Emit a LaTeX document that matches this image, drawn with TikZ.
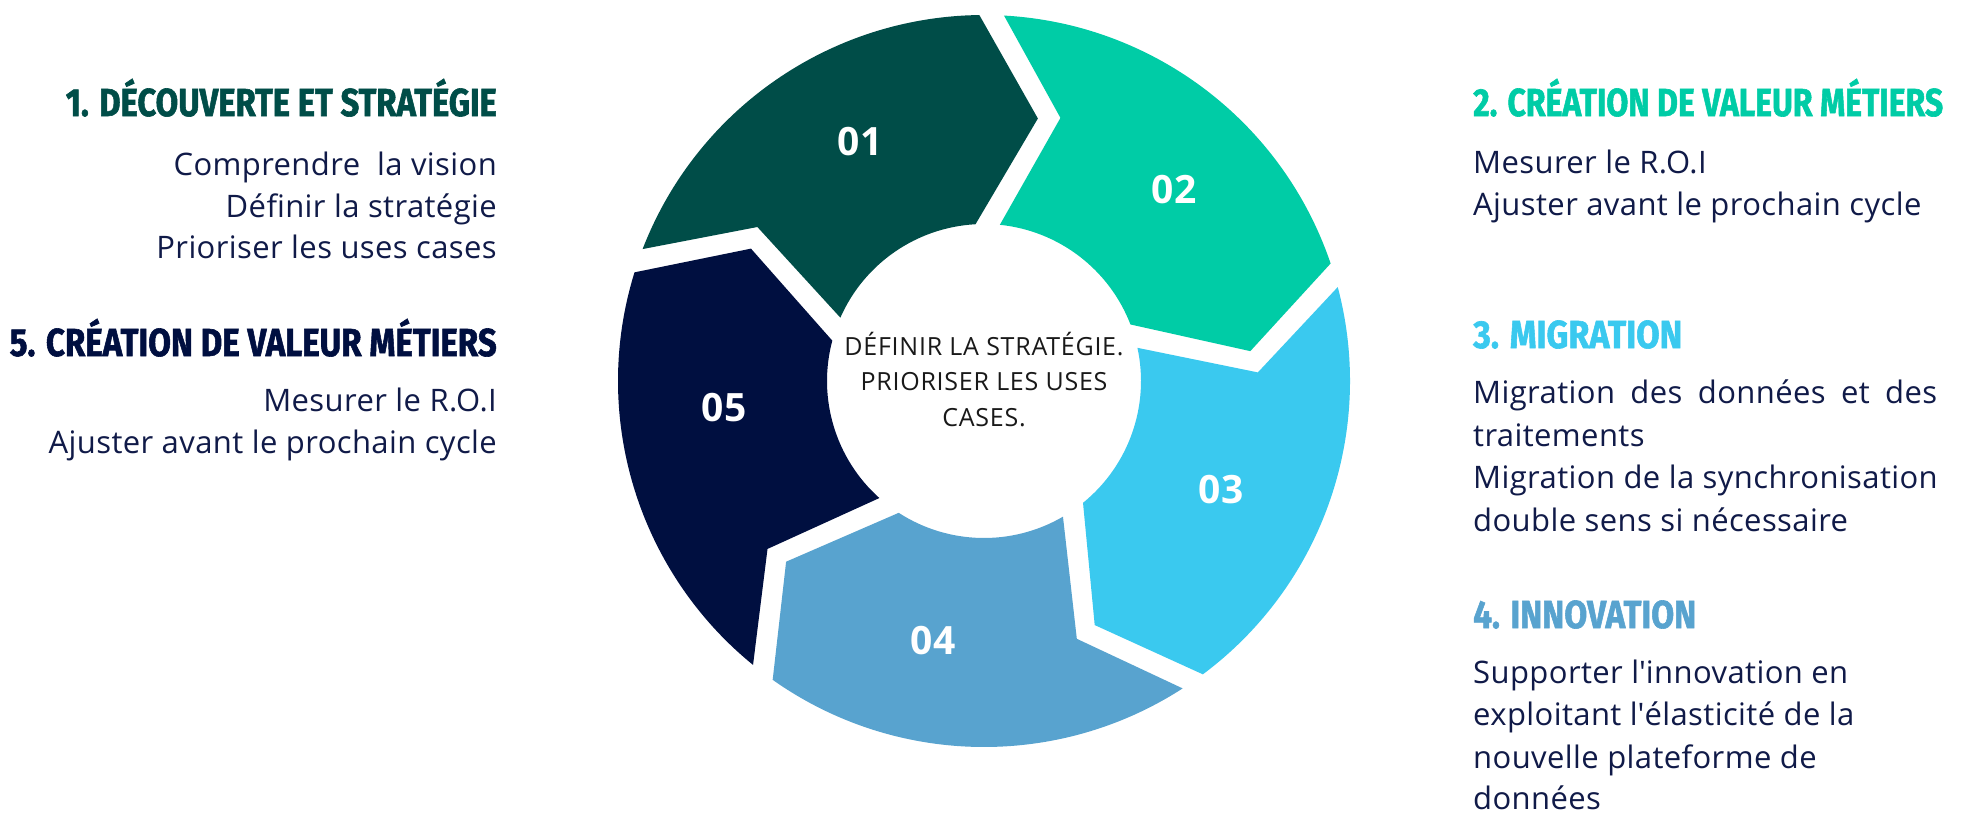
\documentclass[tikz,border=0pt]{standalone}
\usepackage{fontspec}
\usepackage{graphicx}
\setmainfont{Open Sans}
\newfontfamily\headfont{Fira Sans}[FakeBold=1.6]
\newfontfamily\bodyfont{Open Sans}[LetterSpace=1.3]
\newfontfamily\midfont{Open Sans}[LetterSpace=3]
\definecolor{cA}{HTML}{004D48}
\definecolor{cB}{HTML}{00CCA6}
\definecolor{cC}{HTML}{3AC9EF}
\definecolor{cD}{HTML}{58A3CF}
\definecolor{cE}{HTML}{000F40}
\definecolor{txt}{HTML}{101A48}
\newcommand\ringseg[3]{%
  \fill[#1] ({#2-1.93}:366) arc[start angle={#2-1.93}, end angle={#3+1.93}, radius=366]
    -- ({#3-10.4}:268) -- ({#3+4.3}:157)
    arc[start angle={#3+4.3}, end angle={#2-4.6}, radius=157]
    -- ({#2-15}:274) -- cycle;}
\begin{document}
\begin{tikzpicture}[x=1pt,y=1pt,
  head/.style={font=\headfont\bfseries\fontsize{39}{39}\selectfont, inner sep=0},
  body/.style={font=\bodyfont\fontsize{31}{42}\selectfont, text=txt, inner sep=0},
  num/.style={font=\bfseries\fontsize{39}{39}\selectfont, text=white, inner sep=0},
  mid/.style={font=\midfont\fontsize{25}{30}\selectfont, text=black!90, inner sep=0, anchor=base}]
\fill[white] (0,0) rectangle (1982,-822);
\useasboundingbox (0,0) rectangle (1982,-822);
% ring
\begin{scope}[shift={(984,-381)}]
  \ringseg{cA}{160.8}{88.8}
  \ringseg{cB}{88.8}{16.8}
  \ringseg{cC}{16.8}{-55.2}
  \ringseg{cD}{-55.2}{-127.2}
  \ringseg{cE}{-127.2}{-199.2}
\end{scope}
% numbers
\node[num] (n1) at (860,-142) {01};
\node[num] (n2) at (1174,-190) {02};
\node[num] (n3) at (1221,-490) {03};
\node[num] (n4) at (933,-641) {04};
\node[num] (n5) at (724,-408) {05};
% centre text
\node[mid] (m1) at (984,-355) {DÉFINIR LA STRATÉGIE.};
\node[mid] (m2) at (984,-390) {PRIORISER LES USES};
\node[mid] (m3) at (984,-426) {CASES.};
% left column
\node[head, text=cA, anchor=base east] (h1) at (497,-116) {\resizebox{431pt}{\height}{1. DÉCOUVERTE ET STRATÉGIE}};
\node[body, anchor=base east] (b1a) at (497,-175) {Comprendre\ \ la vision};
\node[body, anchor=base east] (b1b) at (497,-217) {Définir la stratégie};
\node[body, anchor=base east] (b1c) at (497,-258) {Prioriser les uses cases};
\node[head, text=cE, anchor=base east] (h5) at (497,-356) {\resizebox{487pt}{\height}{5. CRÉATION DE VALEUR MÉTIERS}};
\node[body, anchor=base east] (b5a) at (497,-411) {Mesurer le R.O.I};
\node[body, anchor=base east] (b5b) at (497,-453) {Ajuster avant le prochain cycle};
% right column
\node[head, text=cB, anchor=base west] (h2) at (1473,-116) {\resizebox{470pt}{\height}{2. CRÉATION DE VALEUR MÉTIERS}};
\node[body, anchor=base west] (b2a) at (1473,-173) {Mesurer le R.O.I};
\node[body, anchor=base west] (b2b) at (1473,-215) {Ajuster avant le prochain cycle};
\node[head, text=cC, anchor=base west] (h3) at (1473,-348) {\resizebox{209pt}{\height}{3. MIGRATION}};
\node[body, anchor=base west] (b3a) at (1473,-403) {\hbox to 464pt{Migration\hfill des\hfill données\hfill et\hfill des}};
\node[body, anchor=base west] (b3b) at (1473,-446) {traitements};
\node[body, anchor=base west] (b3c) at (1473,-488) {Migration de la synchronisation};
\node[body, anchor=base west] (b3d) at (1473,-531) {double sens si nécessaire};
\node[head, text=cD, anchor=base west] (h4) at (1473,-628) {\resizebox{223pt}{\height}{4. INNOVATION}};
\node[body, anchor=base west] (b4a) at (1473,-683) {Supporter l\textquotesingle innovation en};
\node[body, anchor=base west] (b4b) at (1473,-725) {exploitant l\textquotesingle élasticité de la};
\node[body, anchor=base west] (b4c) at (1473,-768) {nouvelle plateforme de};
\node[body, anchor=base west] (b4d) at (1473,-809) {données};
\end{tikzpicture}
\end{document}
